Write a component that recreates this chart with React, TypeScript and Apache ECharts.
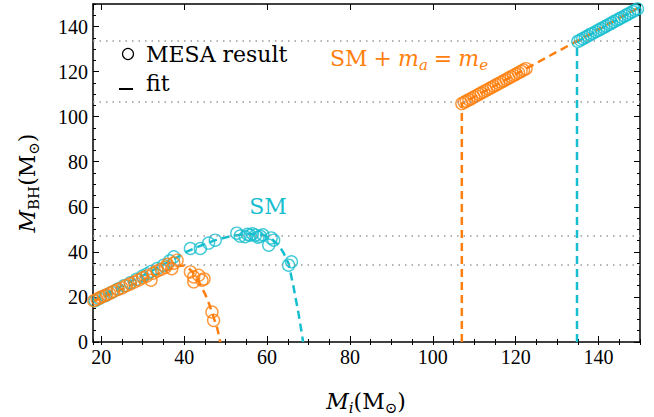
import React, { useEffect, useRef } from "react";
import * as echarts from "echarts";

// ---- data ----
const smLowPoints: [number, number][] = [
  [18.5, 18.3], [19.5, 19.3], [21, 20.6], [22.5, 22], [24, 23.5], [25.5, 25],
  [27, 26.3], [28.5, 27.8], [30, 29.3], [31, 30.2], [32, 31.3], [33.5, 32.6],
  [35, 34], [36.5, 36], [37.5, 37.8],
];
const smMidPoints: [number, number][] = [
  [41.5, 41.5], [43.9, 41.5], [45.9, 43.9], [47.5, 45.2], [52.7, 48.3], [53.5, 47],
  [54.7, 46.7], [55.3, 47.8], [55.9, 47.4], [56.5, 48], [57.2, 47.4], [57.8, 46.5],
  [58.4, 46.9], [59, 47.6], [60.4, 43], [61, 46.2], [61.6, 45.2], [65.2, 34.1], [65.9, 35.6],
];
const smHighPoints: [number, number][] = [
  [135, 133.4], [135.6, 134], [136.2, 134.6], [136.8, 135.2], [137.4, 135.8], [138, 136.5],
  [138.6, 137], [139.3, 137.7], [140, 138.4], [140.6, 139], [141.2, 139.6], [141.8, 140.2],
  [142.5, 140.9], [143.1, 141.5], [143.7, 142.2], [144.4, 142.8], [145, 143.4], [145.6, 144],
  [146.3, 144.7], [146.9, 145.3], [147.5, 145.9], [148.2, 146.6], [148.8, 147.2], [149.4, 147.8],
];
const smFit: [number, number][] = [
  [18, 18.5], [30, 29.5], [38, 37.3], [40, 39.5], [44, 42.8], [48, 45.5], [52, 47.3],
  [56, 48], [59, 47.5], [61, 46], [62.8, 43], [64, 39.5], [65.2, 34.8], [66.4, 24.4],
  [67.6, 12.6], [68.4, 3.7], [68.7, 0],
];
const smHighFit: [number, number][] = [[134.8, 0], [134.8, 133.2], [150, 148.6]];

const maLowPoints: [number, number][] = [
  [18.2, 18.3], [19, 19], [19.8, 19.8], [20.5, 20.3], [21.3, 21], [22, 21.5], [23, 22.5],
  [24, 23.3], [25, 24], [26, 25], [27, 25.8], [28, 26.6], [29, 27.5], [30, 28.5], [31, 29.3],
  [32, 27.4], [32.5, 30.5], [33.5, 31.5], [34.5, 32.3], [35.5, 33.2], [36, 34.5], [37, 32.5],
  [37.5, 35], [38.3, 36.3],
];
const maDropPoints: [number, number][] = [
  [41.5, 31.1], [42.3, 28.9], [42.3, 26.7], [43.5, 29.6], [44.3, 27.4], [44.8, 28],
  [46.7, 13.3], [47.1, 9.6],
];
const maHighPoints: [number, number][] = [
  [107, 105.8], [107.6, 106.4], [108.1, 106.9], [108.7, 107.5], [109.3, 108], [109.9, 108.7],
  [110.5, 109.3], [111.1, 109.9], [111.7, 110.5], [112.3, 111.1], [112.9, 111.7], [113.5, 112.3],
  [114.1, 112.9], [114.7, 113.5], [115.3, 114.1], [115.9, 114.7], [116.5, 115.3], [117.1, 115.9],
  [117.7, 116.5], [118.3, 117.1], [118.9, 117.7], [119.5, 118.3], [120.1, 118.9], [120.7, 119.5],
  [121.3, 120.1], [121.9, 120.7], [122.5, 121.3],
];
const maFit: [number, number][] = [
  [18, 18], [38, 33.5], [40, 34], [41, 33], [42, 31], [43, 28.5], [44, 25], [45, 21.5],
  [46, 17], [47, 11.5], [48, 6], [48.7, 0],
];
const maHighFit: [number, number][] = [[107, 0], [107, 105.8], [150, 148.8]];

const refLevels = [34.4, 47.1, 106.4, 133.6];

const xRange = [18, 150];
const yRange = [0, 150];

const ORANGE = "#ff7f0e";
const CYAN = "#17becf";
const NUM_FONT = "Liberation Serif";
const TXT_FONT = "DejaVu Serif";

export default function App() {
  const ref = useRef<HTMLDivElement>(null);
  useEffect(() => {
    document.body.style.margin = "0";
    const chart = echarts.init(ref.current!, undefined, { renderer: "svg" });

    const majorX = (pos: string, labels: boolean) => ({
      type: "value", position: pos, min: xRange[0], max: xRange[1],
      minInterval: 20, maxInterval: 20, splitNumber: 7,
      axisLine: { show: true, onZero: false, lineStyle: { color: "#000", width: 1.5 } },
      axisTick: { show: true, inside: true, length: 6, lineStyle: { color: "#000", width: 1 } },
      axisLabel: {
        show: labels, margin: 5, color: "#000", fontSize: 20, fontFamily: NUM_FONT,
        showMinLabel: false, showMaxLabel: false,
      },
      splitLine: { show: false },
    });
    const minorX = (pos: string) => ({
      type: "value", position: pos, min: xRange[0], max: xRange[1],
      minInterval: 5, maxInterval: 5, splitNumber: 27,
      axisLine: { show: false },
      axisTick: { show: true, inside: true, length: 3, lineStyle: { color: "#000", width: 1 } },
      axisLabel: { show: false },
      splitLine: { show: false },
    });
    const majorY = (pos: string, labels: boolean) => ({
      type: "value", position: pos, min: yRange[0], max: yRange[1], interval: 20,
      axisLine: { show: true, onZero: false, lineStyle: { color: "#000", width: 1.5 } },
      axisTick: { show: true, inside: true, length: 6, lineStyle: { color: "#000", width: 1 } },
      axisLabel: {
        show: labels, margin: 5, color: "#000", fontSize: 20, fontFamily: NUM_FONT,
        showMinLabel: true, showMaxLabel: false,
      },
      splitLine: { show: false },
    });
    const minorY = (pos: string) => ({
      type: "value", position: pos, min: yRange[0], max: yRange[1], interval: 5,
      axisLine: { show: false },
      axisTick: { show: true, inside: true, length: 3, lineStyle: { color: "#000", width: 1 } },
      axisLabel: { show: false },
      splitLine: { show: false },
    });

    const fitLine = (name: string, data: [number, number][], color: string, extra: any = {}) => ({
      name, type: "line", data, xAxisIndex: 0, yAxisIndex: 0,
      symbol: "none", showSymbol: false, silent: true,
      lineStyle: { color, width: 2.5, type: [8, 5] }, z: 2, ...extra,
    });
    const pts = (name: string, data: [number, number][], color: string) => ({
      name, type: "scatter", data, xAxisIndex: 0, yAxisIndex: 0,
      symbol: "circle", symbolSize: 12,
      itemStyle: { color: "rgba(0,0,0,0)", borderColor: color, borderWidth: 1.4 },
      z: 3,
    });

    const sub = { fontFamily: TXT_FONT, fontSize: 15, lineHeight: 14, verticalAlign: "bottom" };
    const subI = { ...sub, fontStyle: "italic" };
    const main = { fontFamily: TXT_FONT, fontSize: 22, lineHeight: 28 };
    const mainI = { ...main, fontStyle: "italic" };
    const op = { ...main, padding: [0, 6, 0, 6] };

    chart.setOption({
      animation: false,
      backgroundColor: "#fff",
      grid: { left: 93, right: 14, top: 4, bottom: 75, containLabel: false },
      xAxis: [majorX("bottom", true), minorX("bottom"), majorX("top", false), minorX("top")],
      yAxis: [majorY("left", true), minorY("left"), majorY("right", false), minorY("right")],
      series: [
        fitLine("SM fit", smFit, CYAN, {
          markLine: {
            silent: true, symbol: ["none", "none"], label: { show: false },
            lineStyle: { color: "#999", width: 1.5, type: [1.5, 5] },
            data: refLevels.map((v) => ({ yAxis: v })),
          },
        }),
        fitLine("SM high fit", smHighFit, CYAN),
        fitLine("SM+ma fit", maFit, ORANGE),
        fitLine("SM+ma high fit", maHighFit, ORANGE),
        pts("SM low", smLowPoints, CYAN),
        pts("SM mid", smMidPoints, CYAN),
        pts("SM high", smHighPoints, CYAN),
        pts("SM+ma low", maLowPoints, ORANGE),
        pts("SM+ma drop", maDropPoints, ORANGE),
        pts("SM+ma high", maHighPoints, ORANGE),
      ],
      graphic: [
        { type: "circle", shape: { cx: 128, cy: 54, r: 5.5 }, style: { fill: "none", stroke: "#000", lineWidth: 1.2 } },
        { type: "text", x: 146, y: 54, style: { text: "MESA result", fontFamily: TXT_FONT, fontSize: 22, fill: "#000", align: "left", verticalAlign: "middle" } },
        { type: "line", shape: { x1: 119, y1: 89, x2: 133, y2: 89 }, style: { stroke: "#000", lineWidth: 2 } },
        { type: "text", x: 146, y: 83, style: { text: "fit", fontFamily: TXT_FONT, fontSize: 22, fill: "#000", align: "left", verticalAlign: "middle" } },
        { type: "text", x: 268, y: 206, style: { text: "SM", fontFamily: TXT_FONT, fontSize: 22, fill: CYAN, align: "center", verticalAlign: "middle" } },
        {
          type: "text", x: 330, y: 58,
          style: {
            text: "{n|SM}{o|+}{i|m}{s|a}{o|=}{i|m}{s|e}",
            fill: ORANGE, align: "left", verticalAlign: "middle",
            rich: { n: main, i: mainI, s: subI, o: op },
          },
        },
        {
          type: "text", x: 366, y: 401,
          style: {
            text: "{i|M}{s|i}{n|(M}{r|⊙}{n|)}",
            fill: "#000", align: "center", verticalAlign: "middle",
            rich: { n: main, i: mainI, s: subI, r: sub },
          },
        },
        {
          type: "text", x: 27, y: 183, rotation: Math.PI / 2,
          style: {
            text: "{i|M}{r|BH}{n|(M}{r|⊙}{n|)}",
            fill: "#000", align: "center", verticalAlign: "middle",
            rich: { n: main, i: mainI, r: sub },
          },
        },
      ],
    });
    return () => chart.dispose();
  }, []);
  return <div ref={ref} style={{ width: 654, height: 417 }} />;
}
